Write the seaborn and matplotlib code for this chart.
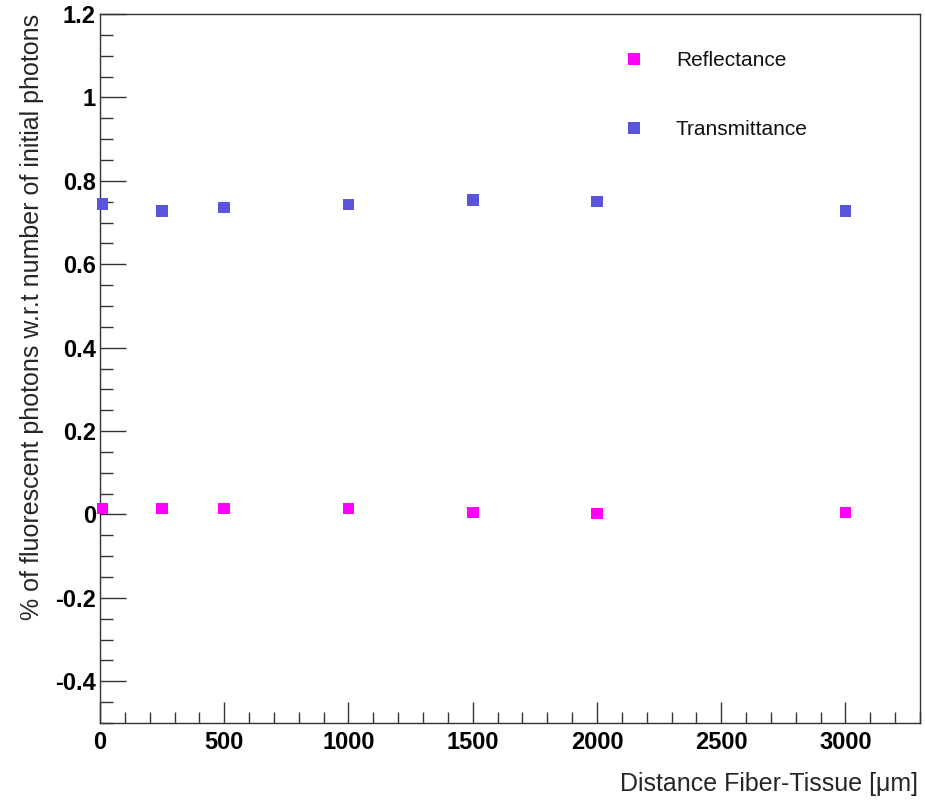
import matplotlib
matplotlib.use("Agg")
import matplotlib.pyplot as plt
from matplotlib.ticker import MultipleLocator
import seaborn as sns
import pandas as pd

# Fiber-to-tissue distance in micrometres
distance = [10, 250, 500, 1000, 1500, 2000, 3000]
reflectance = [0.014, 0.014, 0.014, 0.014, 0.005, 0.002, 0.005]
transmittance = [0.745, 0.728, 0.736, 0.743, 0.754, 0.750, 0.728]
series_names = ["Reflectance", "Transmittance"]
series_colors = ["#ff00ff", "#5a55dc"]

df = pd.DataFrame({
    "distance": distance * 2,
    "value": reflectance + transmittance,
    "series": [series_names[0]] * len(distance) + [series_names[1]] * len(distance),
})

sns.set_theme(style="white")
plt.rcParams["font.family"] = ["Liberation Sans", "DejaVu Sans"]

fig = plt.figure(figsize=(9.25, 8.01), dpi=100)
ax = fig.add_axes([100 / 925, 1 - 723 / 801, 820 / 925, 709 / 801])

sns.scatterplot(data=df, x="distance", y="value", hue="series",
                hue_order=series_names, palette=series_colors,
                marker="s", s=70, linewidth=0, ax=ax, zorder=3,
                clip_on=False)

ax.set_xlim(0, 3300)
ax.set_ylim(-0.5, 1.2)
ax.xaxis.set_minor_locator(MultipleLocator(100))
ax.yaxis.set_minor_locator(MultipleLocator(0.05))

ax.set_yticks([-0.4, -0.2, 0, 0.2, 0.4, 0.6, 0.8, 1.0, 1.2])
ax.set_yticklabels(["-0.4", "-0.2", "0", "0.2", "0.4", "0.6", "0.8", "1", "1.2"])
ax.set_xticks([0, 500, 1000, 1500, 2000, 2500, 3000])
ax.set_xticklabels(["0", "500", "1000", "1500", "2000", "2500", "3000"])

for spine in ax.spines.values():
    spine.set_color("#333333")
    spine.set_linewidth(1.0)

ax.tick_params(axis="both", which="both", direction="in", colors="#333333",
               labelcolor="black", width=1.0, top=False, right=False,
               bottom=True, left=True)
ax.tick_params(axis="y", which="major", length=19, pad=3, labelsize=17)
ax.tick_params(axis="y", which="minor", length=9.5)
ax.tick_params(axis="x", which="major", length=15, pad=6, labelsize=17)
ax.tick_params(axis="x", which="minor", length=8)
for lab in ax.get_xticklabels() + ax.get_yticklabels():
    lab.set_fontweight("bold")

ax.set_xlabel("")
ax.set_ylabel("")
fig.text(918 / 925, 1 - 784 / 801, "Distance Fiber-Tissue [\u03bcm]",
         ha="right", va="center", fontsize=18)
fig.text(32 / 925, 1 - 14 / 801,
         "% of fluorescent photons w.r.t number of initial photons",
         ha="center", va="top", rotation=90, fontsize=18)

leg = ax.legend(loc="upper left", bbox_to_anchor=(603 / 925, 1 - 41 / 801),
                bbox_transform=fig.transFigure, frameon=False,
                fontsize=15, labelspacing=2.4, handlelength=2.0,
                handletextpad=1.0, markerscale=1.0, borderpad=0, title=None)
for t in leg.get_texts():
    t.set_color("#111111")

fig.savefig("out.png", dpi=100)
